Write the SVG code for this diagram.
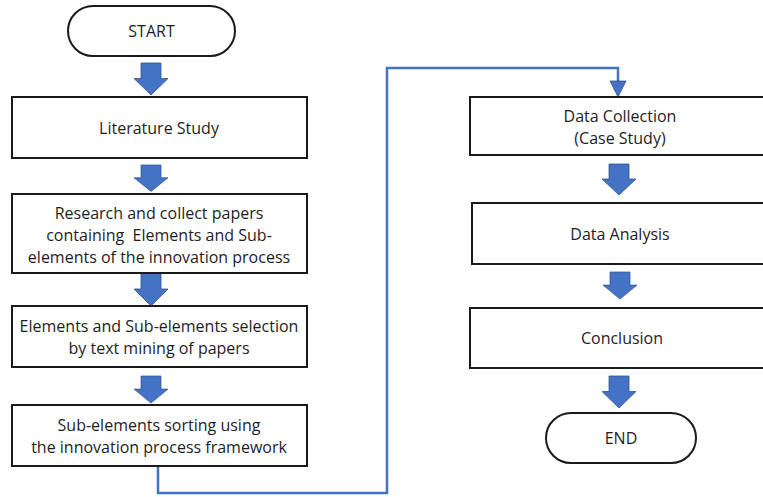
<svg xmlns="http://www.w3.org/2000/svg" width="763" height="497" viewBox="0 0 763 497">
<defs>
<style>
.box{fill:#fff;stroke:#1a1a1a;stroke-width:2}
.t{font-family:"Open Sans","Noto Sans",sans-serif;font-size:16px;fill:#1e1e1e;text-anchor:middle;white-space:pre}
.arr{fill:#4472C4;stroke:#2F528F;stroke-width:0.8}
.conn{fill:none;stroke:#4472C4;stroke-width:2.5}
</style>
<polygon id="darrow" points="-10,0 10,0 10,16 17,16 0,33 -17,16 -10,16"/>
</defs>
<g id="connectors">
<use href="#darrow" class="arr" transform="translate(151,63) scale(1,0.97)"/>
<use href="#darrow" class="arr" transform="translate(151,165) scale(1,0.8)"/>
<use href="#darrow" class="arr" transform="translate(151,273) scale(1,1)"/>
<use href="#darrow" class="arr" transform="translate(151,376) scale(1,0.82)"/>
<use href="#darrow" class="arr" transform="translate(619,164) scale(1,0.94)"/>
<use href="#darrow" class="arr" transform="translate(620,272) scale(1,0.82)"/>
<use href="#darrow" class="arr" transform="translate(619,376) scale(1,0.97)"/>
<polyline class="conn" points="158,466 158,493 387,493 387,68 618,68 618,82"/>
<polygon class="arr" points="610,81 626,81 618,97"/>
</g>
<g id="start">
<rect x="68" y="6" width="167" height="50" rx="25" class="box"/>
<text x="151.5" y="37" class="t">START</text>
</g>
<g id="literature">
<rect x="12" y="97" width="295" height="61" class="box"/>
<text x="159" y="134" class="t">Literature Study</text>
</g>
<g id="research">
<rect x="12" y="194" width="295" height="79" class="box"/>
<text x="159" y="219" class="t">Research and collect papers</text>
<text x="159" y="241" class="t" xml:space="preserve">containing  Elements and Sub-</text>
<text x="159" y="263" class="t">elements of the innovation process</text>
</g>
<g id="selection">
<rect x="12" y="306" width="295" height="61" class="box"/>
<text x="159" y="332" class="t">Elements and Sub-elements selection</text>
<text x="159" y="354" class="t">by text mining of papers</text>
</g>
<g id="sorting">
<rect x="12" y="405" width="295" height="61" class="box"/>
<text x="159" y="431" class="t">Sub-elements sorting using</text>
<text x="159" y="453" class="t">the innovation process framework</text>
</g>
<g id="datacollection">
<rect x="470" y="97" width="300" height="58" class="box"/>
<text x="620" y="122" class="t">Data Collection</text>
<text x="620" y="144" class="t">(Case Study)</text>
</g>
<g id="dataanalysis">
<rect x="472" y="203" width="300" height="61" class="box"/>
<text x="620" y="240" class="t">Data Analysis</text>
</g>
<g id="conclusion">
<rect x="470" y="308" width="300" height="60" class="box"/>
<text x="622" y="344" class="t">Conclusion</text>
</g>
<g id="end">
<rect x="546" y="413" width="150" height="50" rx="25" class="box"/>
<text x="621" y="444" class="t">END</text>
</g>
</svg>
